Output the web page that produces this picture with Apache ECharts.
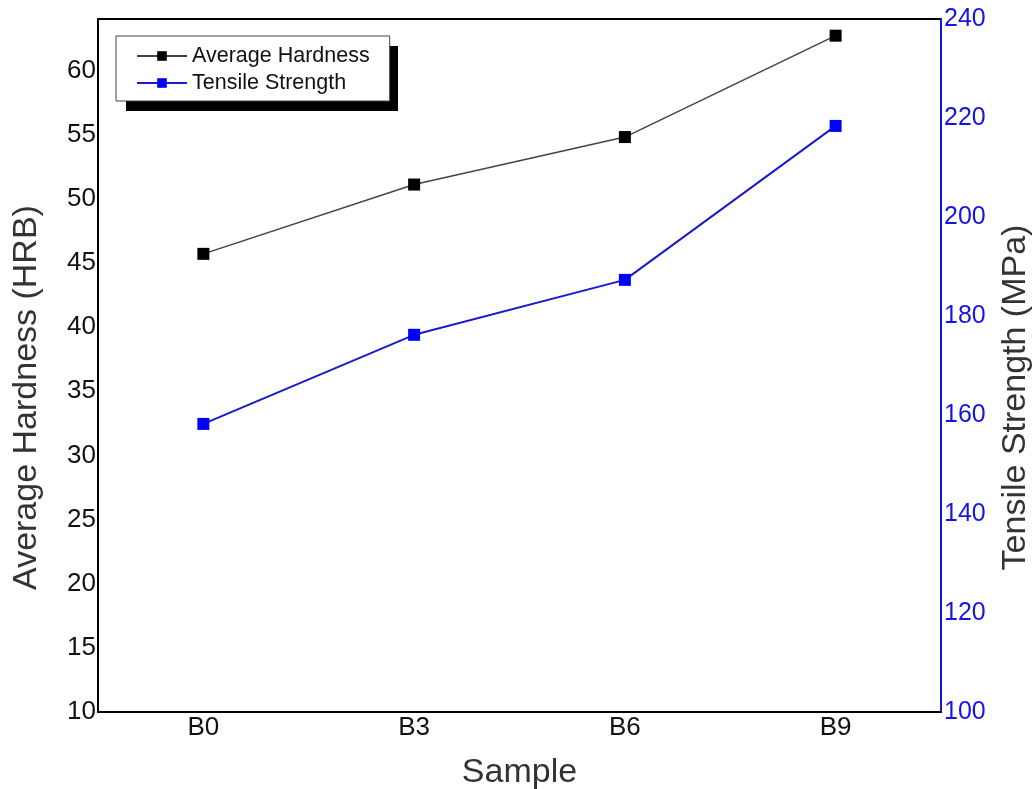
<!DOCTYPE html>
<html>
<head>
<meta charset="utf-8">
<script src="https://cdn.jsdelivr.net/npm/echarts@6/dist/echarts.min.js"></script>
<style>
html,body{margin:0;padding:0;background:#fff;}
#chart{width:1033px;height:789px;}
</style>
</head>
<body>
<div id="chart"></div>
<script>
const samples = ['B0', 'B3', 'B6', 'B9'];
const hardness = [45.7, 51.1, 54.8, 62.7];
const tensile = [158.2, 176.2, 187.3, 218.4];
const hardnessTicks = {min: 10, max: 64, interval: 5};
const tensileTicks = {min: 100, max: 240, interval: 20};

const FONT = '"Liberation Sans", Arial, sans-serif';
const BLUE = '#1414e6';

const chart = echarts.init(document.getElementById('chart'), null, {renderer: 'canvas'});
chart.setOption({
  backgroundColor: '#ffffff',
  animation: false,
  textStyle: {fontFamily: FONT},
  grid: {
    left: 98, right: 92, top: 19, bottom: 77,
    containLabel: false,
    outerBoundsMode: 'none',
    show: true, borderColor: '#000', borderWidth: 2, backgroundColor: 'transparent'
  },
  graphic: [
    {
      type: 'rect',
      z: 1,
      silent: true,
      shape: {x: 126, y: 46, width: 272, height: 65},
      style: {fill: '#000'}
    }
  ],
  legend: {
    z: 10,
    orient: 'vertical',
    left: 116, top: 36,
    padding: [9, 20, 7, 20],
    itemGap: 5,
    itemWidth: 50, itemHeight: 12,
    backgroundColor: '#fff',
    borderColor: '#444', borderWidth: 1,
    textStyle: {fontFamily: FONT, fontSize: 21.5, color: '#111'},
    data: ['Average Hardness', 'Tensile Strength']
  },
  xAxis: {
    type: 'category',
    data: samples,
    boundaryGap: true,
    name: 'Sample',
    nameLocation: 'middle',
    nameGap: 44,
    nameTextStyle: {fontFamily: FONT, fontSize: 34, color: '#333'},
    axisLine: {lineStyle: {color: '#000', width: 2}},
    axisTick: {show: false},
    axisLabel: {fontFamily: FONT, fontSize: 26, color: '#111', margin: 3},
    splitLine: {show: false}
  },
  yAxis: [
    {
      type: 'value',
      position: 'left',
      min: hardnessTicks.min, max: hardnessTicks.max, interval: hardnessTicks.interval,
      name: 'Average Hardness (HRB)',
      nameLocation: 'middle',
      nameRotate: 90,
      nameGap: 54,
      nameTextStyle: {fontFamily: FONT, fontSize: 34, color: '#333', padding: [0, 64, 0, 0]},
      axisLine: {show: true, lineStyle: {color: '#000', width: 2}},
      axisTick: {show: false},
      axisLabel: {fontFamily: FONT, fontSize: 26, color: '#111', margin: 2, showMaxLabel: false},
      splitLine: {show: false}
    },
    {
      type: 'value',
      position: 'right',
      min: tensileTicks.min, max: tensileTicks.max, interval: tensileTicks.interval,
      name: 'Tensile Strength (MPa)',
      nameLocation: 'middle',
      nameRotate: 90,
      nameGap: 58,
      nameTextStyle: {fontFamily: FONT, fontSize: 34, color: '#333', padding: [0, 64, 0, 0]},
      axisLine: {show: true, lineStyle: {color: BLUE, width: 2}},
      axisTick: {show: false},
      axisLabel: {fontFamily: FONT, fontSize: 25, color: BLUE, margin: 3},
      splitLine: {show: false}
    }
  ],
  series: [
    {
      name: 'Average Hardness',
      type: 'line',
      yAxisIndex: 0,
      data: hardness,
      symbol: 'rect',
      symbolSize: 12,
      itemStyle: {color: '#000'},
      lineStyle: {color: '#444', width: 1.5}
    },
    {
      name: 'Tensile Strength',
      type: 'line',
      yAxisIndex: 1,
      data: tensile,
      symbol: 'rect',
      symbolSize: 12,
      itemStyle: {color: '#0000ff'},
      lineStyle: {color: '#1a1acc', width: 2}
    }
  ]
});
</script>
</body>
</html>
